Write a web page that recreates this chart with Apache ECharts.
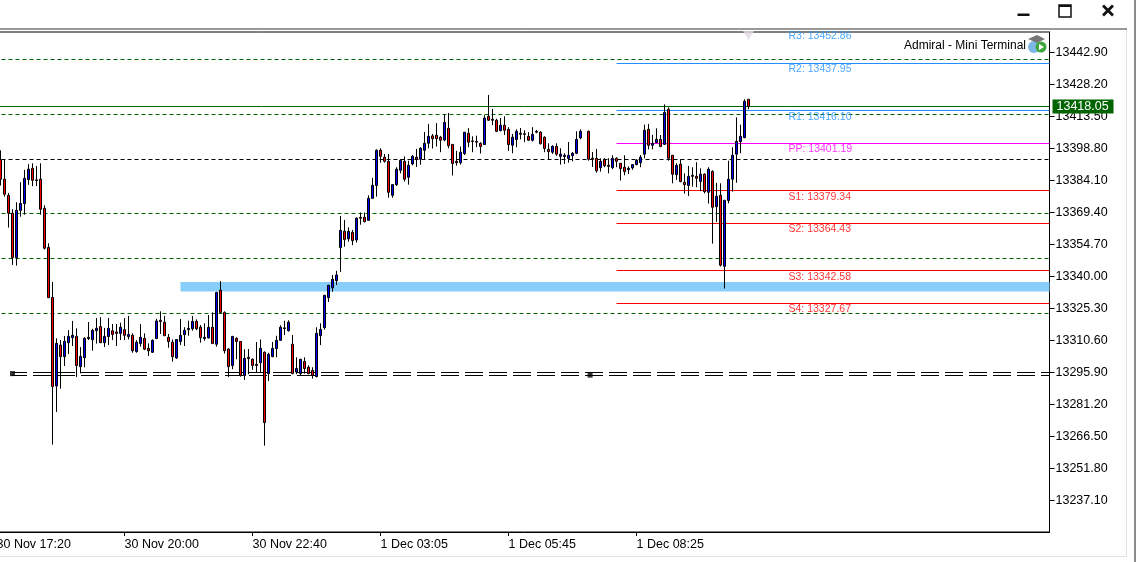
<!DOCTYPE html>
<html>
<head>
<meta charset="utf-8">
<style>html,body{margin:0;padding:0;background:#fff;overflow:hidden}#c{width:1137px;height:562px}</style>
<script src="https://cdn.jsdelivr.net/npm/echarts@6/dist/echarts.min.js"></script>
</head>
<body>
<div id="c"></div>
<script>
const tickLabels = ['30 Nov 17:20','30 Nov 20:00','30 Nov 22:40','1 Dec 03:05','1 Dec 05:45','1 Dec 08:25'];
const priceTicks = [13442.90,13428.20,13413.50,13398.80,13384.10,13369.40,13354.70,13340.00,13325.30,13310.60,13295.90,13281.20,13266.50,13251.80,13237.10];
const lastPrice = 13418.05;
const dashedGreen = [13439.68,13414.42,13368.94,13348.27,13323.0];
const dashedBlack = [13393.57];
const doubleLine = [13296.04,13294.52];
const zoneBand = [13337.38,13332.99];
const pivotNames = ['R3','R2','R1','PP','S1','S2','S3','S4'];
const pivotValues = [13452.86,13437.95,13416.10,13401.19,13379.34,13364.43,13342.58,13327.67];
const pivotColors = ['#1e90ff','#1e90ff','#1e90ff','#ff00ff','#ff0000','#ff0000','#ff0000','#ff0000'];
// open, close, low, high per 5-minute bar
const ohlc = [
['-','-','-','-'],
[13393.6,13384.6,13381.7,13397.9],[13384.6,13377.7,13376.6,13393.6],[13377.2,13369.0,13362.4,13378.3],[13369.0,13348.6,13345.2,13370.8],
[13348.6,13370.3,13344.9,13374.0],[13370.3,13373.5,13367.4,13383.2],[13373.4,13385.0,13368.3,13388.9],[13384.4,13389.2,13382.0,13391.5],
[13389.6,13384.1,13381.4,13391.9],[13384.3,13384.0,13381.5,13390.7],[13384.6,13370.8,13368.3,13391.9],[13371.2,13352.9,13352.3,13372.6],
[13353.3,13330.2,13330.0,13355.2],[13330.3,13289.3,13262.7,13337.4],[13289.6,13309.2,13277.7,13311.5],[13308.4,13303.1,13288.4,13310.7],
[13303.1,13310.1,13298.8,13312.6],[13309.5,13312.4,13304.3,13315.3],[13311.8,13312.9,13308.0,13319.5],[13312.4,13299.0,13293.7,13316.1],
[13298.5,13303.2,13295.4,13307.5],[13302.6,13311.5,13298.2,13312.0],[13311.4,13312.0,13310.7,13319.0],[13310.9,13315.2,13305.8,13315.9],
[13315.0,13316.1,13309.1,13320.8],[13316.9,13309.5,13309.4,13321.2],[13309.5,13312.4,13307.5,13316.3],[13312.3,13316.1,13308.4,13320.8],
[13315.0,13313.3,13310.7,13318.1],[13314.4,13313.8,13308.0,13318.1],[13313.7,13316.6,13310.7,13318.7],[13315.5,13312.9,13310.7,13320.8],
[13312.3,13313.3,13311.0,13321.8],[13312.9,13305.8,13304.9,13313.8],[13305.4,13309.7,13304.9,13310.7],[13309.1,13312.0,13307.7,13318.1],
[13311.5,13306.5,13306.1,13313.8],[13306.9,13305.8,13303.4,13309.2],[13305.1,13310.6,13304.8,13311.0],[13311.4,13319.5,13311.2,13320.5],
[13319.8,13319.2,13313.5,13323.9],[13318.9,13312.7,13312.6,13321.8],[13312.0,13310.0,13307.2,13313.5],[13309.7,13303.1,13300.8,13311.0],
[13302.5,13311.0,13302.0,13311.0],[13310.0,13312.9,13308.4,13320.4],[13313.2,13315.2,13308.0,13316.6],[13315.5,13316.1,13312.7,13319.6],
[13315.9,13319.3,13315.0,13321.8],[13319.3,13315.9,13315.3,13320.2],[13316.6,13311.8,13309.5,13317.6],[13311.4,13312.0,13310.4,13318.4],
[13311.7,13316.6,13311.4,13322.2],[13316.6,13309.1,13308.9,13323.4],[13308.8,13332.6,13307.7,13332.9],[13333.6,13323.4,13323.1,13337.8],
[13323.4,13305.8,13304.5,13323.9],[13306.6,13298.5,13293.7,13306.9],[13299.0,13312.4,13297.3,13312.6],[13311.5,13310.1,13301.9,13312.0],
[13310.1,13294.4,13293.9,13310.1],[13294.4,13302.3,13292.4,13306.5],[13302.8,13302.2,13295.0,13306.6],[13301.9,13299.0,13297.0,13302.3],
[13299.6,13299.0,13295.9,13309.8],[13300.3,13306.9,13295.6,13311.0],[13305.1,13272.8,13262.2,13305.5],[13295.3,13304.2,13291.9,13304.9],
[13303.1,13306.9,13302.8,13309.8],[13306.8,13310.6,13302.8,13312.7],[13310.6,13316.6,13310.3,13317.5],[13316.3,13316.0,13313.0,13319.6],
[13315.0,13318.9,13314.6,13319.8],[13308.8,13295.3,13295.0,13313.0],[13296.0,13297.7,13295.0,13302.8],[13295.3,13301.9,13294.5,13301.9],
[13300.9,13297.6,13295.3,13302.8],[13298.2,13295.3,13295.0,13299.1],[13296.8,13294.5,13293.0,13298.2],[13293.9,13313.8,13293.6,13316.6],
[13312.7,13315.6,13308.4,13318.4],[13316.4,13331.3,13315.5,13331.3],[13330.2,13335.9,13328.2,13335.9],[13334.7,13338.6,13332.9,13340.6],
[13338.0,13340.6,13336.0,13342.5],[13353.2,13361.1,13342.0,13367.7],[13360.7,13356.9,13353.6,13365.9],[13357.2,13360.7,13355.9,13362.5],
[13360.2,13356.4,13354.3,13361.3],[13356.7,13366.7,13355.5,13367.1],[13367.1,13366.7,13363.7,13369.3],[13367.1,13365.1,13364.7,13369.3],
[13365.7,13375.8,13365.6,13377.2],[13375.8,13381.8,13375.7,13385.2],[13381.7,13397.9,13376.6,13398.3],[13397.9,13395.1,13392.2,13398.8],
[13394.7,13392.8,13392.2,13396.2],[13392.8,13378.6,13376.1,13396.2],[13377.2,13382.1,13376.1,13382.3],[13382.1,13389.2,13381.5,13390.1],
[13388.7,13393.3,13387.3,13393.8],[13392.8,13384.6,13383.5,13395.1],[13385.5,13391.0,13382.1,13393.1],[13391.6,13395.1,13391.0,13395.7],
[13394.7,13393.8,13390.2,13398.5],[13393.8,13398.8,13391.2,13399.3],[13397.9,13401.1,13393.8,13406.3],[13401.1,13404.3,13398.8,13410.0],
[13404.5,13403.2,13398.7,13405.4],[13404.8,13403.2,13399.6,13410.4],[13403.9,13402.5,13397.0,13404.5],[13402.6,13410.7,13402.0,13414.6],
[13408.0,13400.0,13398.8,13415.0],[13400.6,13391.8,13386.3,13400.6],[13392.8,13392.2,13390.8,13397.6],[13392.2,13397.0,13391.3,13399.6],
[13396.4,13406.2,13395.7,13406.2],[13405.7,13401.6,13399.3,13408.0],[13402.2,13401.9,13397.0,13404.3],[13402.0,13401.6,13399.3,13404.6],
[13401.1,13399.6,13396.4,13401.6],[13400.5,13412.7,13400.5,13414.0],[13413.5,13411.7,13411.4,13423.3],[13412.1,13411.7,13409.4,13416.9],
[13411.7,13406.6,13406.2,13412.4],[13406.9,13409.4,13406.6,13412.7],[13409.4,13407.1,13404.9,13413.5],[13407.5,13400.5,13397.6,13408.5],
[13400.2,13403.9,13396.5,13405.4],[13402.8,13406.6,13399.3,13407.5],[13405.7,13405.2,13402.9,13408.1],[13405.5,13405.2,13401.6,13407.1],
[13404.3,13402.5,13402.2,13406.2],[13402.5,13405.2,13401.9,13408.5],[13406.6,13406.2,13405.7,13407.2],[13406.2,13400.9,13400.6,13406.6],
[13403.9,13398.7,13397.0,13404.3],[13398.3,13397.3,13393.8,13401.1],[13397.0,13399.7,13396.2,13400.2],[13399.7,13396.1,13395.4,13401.1],
[13395.1,13396.1,13391.3,13398.8],[13395.0,13395.6,13391.6,13396.5],[13394.1,13395.6,13392.2,13401.7],[13395.4,13396.5,13392.8,13397.1],
[13396.5,13402.9,13396.1,13406.6],[13403.6,13406.6,13402.9,13407.5],['-','-','-','-'],[13406.6,13393.8,13393.1,13406.9],
[13394.2,13393.8,13390.2,13397.1],[13394.2,13388.5,13387.6,13398.5],[13389.9,13392.8,13388.1,13394.2],[13393.8,13390.8,13390.1,13394.2],
[13391.0,13390.5,13387.3,13394.2],[13389.9,13394.2,13389.2,13395.6],[13394.2,13392.8,13390.1,13394.7],[13391.9,13389.5,13384.0,13392.1],
[13390.1,13388.1,13386.4,13395.6],[13389.0,13389.6,13387.0,13390.5],[13389.8,13391.3,13388.9,13391.5],[13391.3,13393.3,13391.0,13393.8],
[13392.2,13394.7,13390.1,13395.7],[13396.1,13407.1,13394.2,13409.7],[13407.5,13400.2,13398.3,13410.0],[13400.2,13401.1,13398.3,13405.0],
[13401.4,13402.9,13401.4,13408.0],[13402.9,13399.6,13399.3,13404.9],[13400.6,13415.3,13400.3,13419.0],[13416.7,13394.2,13393.1,13417.6],
[13395.6,13386.9,13382.7,13395.6],[13386.7,13391.0,13384.3,13391.9],[13391.5,13383.5,13383.2,13393.8],[13383.2,13382.1,13378.0,13387.3],
[13381.7,13385.9,13376.9,13390.7],[13386.4,13385.9,13381.2,13390.1],[13385.9,13385.0,13380.9,13392.4],[13383.5,13386.9,13379.1,13389.6],
[13386.9,13378.9,13378.1,13387.3],[13378.6,13389.2,13373.4,13390.1],[13388.2,13371.7,13355.0,13388.7],[13372.0,13376.8,13365.0,13382.9],
[13377.2,13345.1,13344.5,13382.7],[13344.6,13374.9,13334.4,13374.9],[13374.8,13384.6,13373.5,13393.1],[13384.6,13395.6,13378.9,13399.3],
[13396.1,13402.0,13383.0,13413.0],[13401.9,13404.3,13396.5,13409.7],[13403.7,13420.4,13403.4,13421.3],[13421.3,13418.05,13416.7,13421.3]
];
const xMin = -0.5;
const xMax = 263.25;
const barsPerTick = 32;

const tickPositions = tickLabels.map((_, k) => k * barsPerTick);
const candleRows = ohlc.map((r, i) => [i, r[0], r[1], r[2], r[3]]);

const font = '"Liberation Sans", Arial, sans-serif';
const noSym = ['none', 'none'];
const lines = [];
dashedGreen.forEach(p => lines.push({yAxis: p, lineStyle: {color: '#006400', width: 1, type: [4, 3]}}));
dashedBlack.forEach(p => lines.push({yAxis: p, lineStyle: {color: '#000', width: 1, type: [4, 3]}}));
doubleLine.forEach(p => lines.push([
  {coord: [3.9, p], lineStyle: {color: '#000', width: 1, type: [18, 6], dashOffset: 3.1}},
  {coord: [xMax, p]}
]));
pivotValues.forEach((p, k) => {
  if (pivotNames[k] === 'R3') return;
  lines.push([{coord: [155, p], lineStyle: {color: pivotColors[k], width: 1, type: 'solid'}}, {coord: [xMax, p]}]);
});
lines.push({
  yAxis: lastPrice,
  lineStyle: {color: '#006400', width: 1, type: 'solid'},
  label: {
    show: true, position: 'end', distance: 3,
    formatter: lastPrice.toFixed(2), color: '#fff', backgroundColor: '#006400',
    fontFamily: font, fontSize: 12.5, width: 57, height: 14, lineHeight: 14, align: 'left', verticalAlign: 'middle', padding: [0, 0, 0, 4]
  }
});

const chart = echarts.init(document.getElementById('c'), null, {renderer: 'canvas'});
chart.setOption({
  animation: false,
  backgroundColor: '#fff',
  grid: {outerBoundsMode: 'none', left: -5.5, top: 32, width: 1055, height: 500, show: true, borderColor: '#000', borderWidth: 1, backgroundColor: '#fff', containLabel: false},
  xAxis: {
    type: 'value', min: xMin, max: xMax,
    axisLine: {show: true, onZero: false, lineStyle: {color: '#000', width: 1}},
    axisTick: {show: true, length: 4, customValues: tickPositions, lineStyle: {color: '#000'}},
    axisLabel: {show: true, customValues: tickPositions, align: 'left', margin: 6, color: '#000', fontFamily: font, fontSize: 12.5, hideOverlap: false,
      formatter: v => tickLabels[v / barsPerTick]},
    splitLine: {show: false}
  },
  yAxis: {
    type: 'value', position: 'right', min: 13222.54, max: 13452.22, scale: true,
    axisLine: {show: true, onZero: false, lineStyle: {color: '#000', width: 1}},
    axisTick: {show: true, length: 5, customValues: priceTicks, lineStyle: {color: '#000'}},
    axisLabel: {show: true, margin: 6, customValues: priceTicks, color: '#000', fontFamily: font, fontSize: 12.5, formatter: v => v.toFixed(2)},
    splitLine: {show: false}
  },
  series: [
    {
      type: 'candlestick', data: candleRows, encode: {x: 0, y: [1, 2, 3, 4]}, barWidth: 2, z: 3, clip: true,
      itemStyle: {color: '#0000ff', color0: '#ff0000', borderColor: '#000', borderColor0: '#000', borderWidth: 1},
      markLine: {silent: true, z: 1, symbol: noSym, label: {show: false}, data: lines, animation: false},
      markArea: {silent: true, z: 1, itemStyle: {color: '#87cefa', opacity: 1},
        data: [[{coord: [46, zoneBand[0]]}, {coord: [xMax, zoneBand[1]]}]]}
    },
    {
      type: 'scatter', z: 4, symbolSize: 0, clip: false, silent: true,
      data: pivotValues.map((p, k) => ({
        value: [198, p],
        label: {
          show: true, position: 'right', distance: 0, offset: [0, 6],
          formatter: pivotNames[k] + ': ' + p.toFixed(2), color: pivotColors[k],
          fontFamily: font, fontSize: 10.5
        }
      }))
    },
    {
      type: 'scatter', z: 2, clip: true, silent: true, symbol: 'triangle', symbolRotate: 180, symbolSize: [11, 9],
      itemStyle: {color: '#e2d9e2'}, data: [[188, 13450.6]]
    },
    {
      type: 'scatter', z: 4, silent: true, symbol: 'rect', symbolSize: [5, 5],
      itemStyle: {color: '#000'}, data: [[4, 13295.3], [148.4, 13294.6]]
    }
  ],
  graphic: [
    {type: 'rect', shape: {x: 0, y: 28, width: 1127, height: 2}, style: {fill: '#999'}, silent: true},
    {type: 'rect', shape: {x: 1126, y: 30, width: 1, height: 527}, style: {fill: '#e3e3e3'}, silent: true},
    {type: 'rect', shape: {x: 0, y: 556, width: 1127, height: 1}, style: {fill: '#e3e3e3'}, silent: true},
    {type: 'rect', shape: {x: 1134, y: 0, width: 2, height: 562}, style: {fill: '#8c8c8c'}, silent: true},
    {type: 'rect', shape: {x: 1017.5, y: 13.5, width: 12, height: 2.5}, style: {fill: '#111'}, silent: true},
    {type: 'rect', shape: {x: 1059, y: 5, width: 12, height: 12}, style: {fill: 'none', stroke: '#111', lineWidth: 1.5}, silent: true},
    {type: 'rect', shape: {x: 1059, y: 5, width: 12, height: 2}, style: {fill: '#111'}, silent: true},
    {type: 'line', shape: {x1: 1103, y1: 5.5, x2: 1113, y2: 15.5}, style: {stroke: '#111', lineWidth: 2.8}, silent: true},
    {type: 'line', shape: {x1: 1113, y1: 5.5, x2: 1103, y2: 15.5}, style: {stroke: '#111', lineWidth: 2.8}, silent: true},
    {type: 'text', x: 904, y: 40, silent: true, z: 10, style: {text: 'Admiral - Mini Terminal', fill: '#000', font: '12px ' + font}},
    {type: 'circle', shape: {cx: 1034, cy: 47, r: 6}, style: {fill: '#7db7e8'}, silent: true, z: 10},
    {type: 'polygon', shape: {points: [[1028,39],[1037,35],[1045,39],[1037,43]]}, style: {fill: '#777'}, silent: true, z: 10},
    {type: 'circle', shape: {cx: 1041, cy: 47, r: 5.5}, style: {fill: '#3ea63e'}, silent: true, z: 11},
    {type: 'polygon', shape: {points: [[1039,44],[1044,47],[1039,50]]}, style: {fill: '#fff'}, silent: true, z: 12}
  ]
});
</script>
</body>
</html>
